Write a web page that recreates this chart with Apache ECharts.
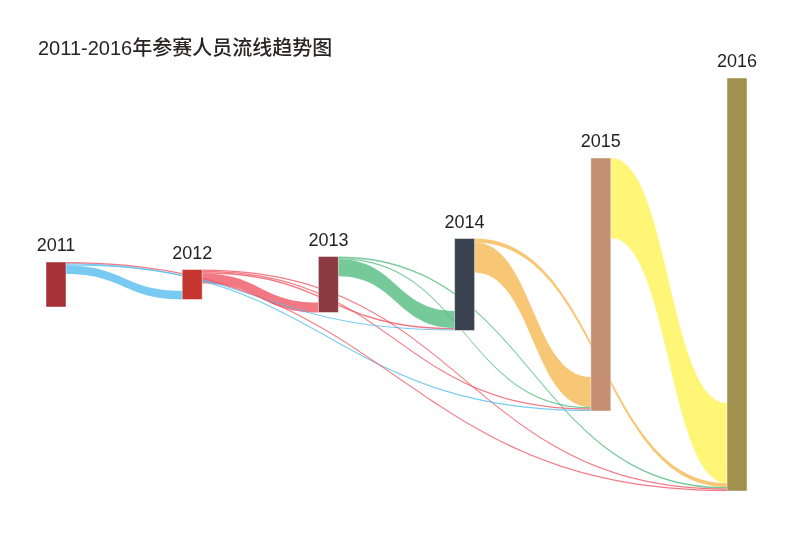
<!DOCTYPE html>
<html>
<head>
<meta charset="utf-8">
<script src="https://cdn.jsdelivr.net/npm/echarts@6/dist/echarts.min.js"></script>
<style>
  html, body { margin: 0; padding: 0; background: #ffffff; }
  #chart { width: 800px; height: 558px; }
</style>
</head>
<body>
<div id="chart"></div>
<script>
// ---- data ----
const titleText = '2011-2016年参赛人员流线趋势图';
const years = ['2011', '2012', '2013', '2014', '2015', '2016'];
const nodeValues = [450, 300, 560, 920, 2530, 4130];

const linkSources = ['2011', '2011', '2011', '2011', '2012', '2012', '2012', '2012', '2013', '2013', '2013', '2014', '2014', '2015'];
const linkTargets = ['2012', '2014', '2015', '2016', '2013', '2014', '2015', '2016', '2014', '2015', '2016', '2015', '2016', '2016'];
const linkValues  = [85, 12, 12, 12, 100, 13, 13, 13, 170, 14, 14, 300, 40, 800];

// ---- styles ----
const nodeColors = ['#a83336', '#c4362f', '#8a3a40', '#3a424f', '#c58f74', '#a0914e'];
const linkPalette = ['#52bbf0', '#ee5360', '#50bb7e', '#f6b74f', '#fff250'];
// palette index used for each link (as seen in the picture)
const linkColorIdx = [0, 0, 0, 1, 1, 1, 1, 1, 2, 2, 2, 3, 3, 4];
const LEFT = 46, TOP = 78, WIDTH = 701, HEIGHT = 413, NODE_W = 20;

// ---- build sankey option ----
const maxVal = Math.max.apply(null, nodeValues);
const kxFrac = (WIDTH - NODE_W) / (years.length - 1) / WIDTH;

const inSum = {};
years.forEach(y => { inSum[y] = 0; });
linkValues.forEach((v, i) => { inSum[linkTargets[i]] += v; });

const nodes = years.map((y, i) => ({
  name: y,
  value: nodeValues[i],
  depth: i,
  localX: i * kxFrac,
  localY: (1 - nodeValues[i] / maxVal) / 2,
  itemStyle: { color: nodeColors[i], borderColor: 'rgba(255,255,255,0.45)', borderWidth: 1 }
}));
// helper anchors: incoming flows end at the bottom of each node
const helperOrder = years.slice(1).reverse();
helperOrder.forEach(y => {
  const i = years.indexOf(y);
  nodes.push({
    name: 'in-' + y,
    depth: 0,
    localX: i * kxFrac,
    localY: 0.5 + (nodeValues[i] / 2 - inSum[y]) / maxVal,
    itemStyle: { opacity: 0, borderWidth: 0 },
    label: { show: false }
  });
});

const linkIdx = linkValues.map((v, i) => i);
linkIdx.sort((a, b) => years.indexOf(linkSources[b]) - years.indexOf(linkSources[a]));
const links = linkIdx.map(i => ({
  source: linkSources[i],
  target: 'in-' + linkTargets[i],
  value: linkValues[i],
  lineStyle: { color: linkPalette[linkColorIdx[i]], opacity: 0.78 }
}));

const chart = echarts.init(document.getElementById('chart'), null, { renderer: 'canvas' });
chart.setOption({
  animation: false,
  backgroundColor: '#ffffff',
  title: {
    text: titleText,
    left: 38,
    top: 39,
    padding: 0,
    textStyle: {
      fontSize: 20,
      fontWeight: 500,
      color: '#2a2425',
      fontFamily: '"Liberation Sans", "Noto Sans CJK SC", sans-serif'
    }
  },
  series: [{
    type: 'sankey',
    left: LEFT,
    top: TOP,
    width: WIDTH,
    height: HEIGHT,
    nodeWidth: NODE_W,
    nodeGap: 8,
    layoutIterations: 0,
    nodeAlign: 'left',
    draggable: false,
    emphasis: { disabled: true },
    label: {
      show: true,
      position: 'top',
      distance: 6,
      fontSize: 18,
      color: '#231f20',
      fontFamily: '"Liberation Sans", sans-serif'
    },
    lineStyle: { curveness: 0.5 },
    data: nodes,
    links: links
  }]
});
</script>
</body>
</html>
